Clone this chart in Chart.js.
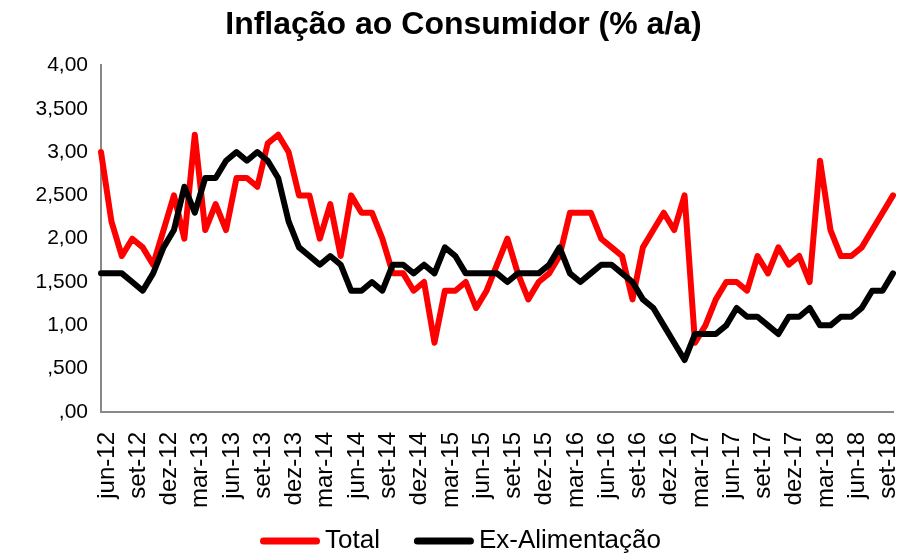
<!DOCTYPE html>
<html>
<head>
<meta charset="utf-8">
<script src="https://cdn.jsdelivr.net/npm/chart.js@4.4.1/dist/chart.umd.min.js"></script>
<style>
  html, body { margin: 0; padding: 0; background: #ffffff; }
  #wrap { width: 910px; height: 554px; }
</style>
</head>
<body>
<div id="wrap"><canvas id="c" width="910" height="554"></canvas></div>
<script>
const months = [
  "jun-12","jul-12","ago-12","set-12","out-12","nov-12","dez-12",
  "jan-13","fev-13","mar-13","abr-13","mai-13","jun-13","jul-13","ago-13","set-13","out-13","nov-13","dez-13",
  "jan-14","fev-14","mar-14","abr-14","mai-14","jun-14","jul-14","ago-14","set-14","out-14","nov-14","dez-14",
  "jan-15","fev-15","mar-15","abr-15","mai-15","jun-15","jul-15","ago-15","set-15","out-15","nov-15","dez-15",
  "jan-16","fev-16","mar-16","abr-16","mai-16","jun-16","jul-16","ago-16","set-16","out-16","nov-16","dez-16",
  "jan-17","fev-17","mar-17","abr-17","mai-17","jun-17","jul-17","ago-17","set-17","out-17","nov-17","dez-17",
  "jan-18","fev-18","mar-18","abr-18","mai-18","jun-18","jul-18","ago-18","set-18","out-18"
];

const totalValues = [
  3.0, 2.2, 1.8, 2.0, 1.9, 1.7, 2.1, 2.5, 2.0, 3.2,
  2.1, 2.4, 2.1, 2.7, 2.7, 2.6, 3.1, 3.2, 3.0, 2.5,
  2.5, 2.0, 2.4, 1.8, 2.5, 2.3, 2.3, 2.0, 1.6, 1.6,
  1.4, 1.5, 0.8, 1.4, 1.4, 1.5, 1.2, 1.4, 1.7, 2.0,
  1.6, 1.3, 1.5, 1.6, 1.8, 2.3, 2.3, 2.3, 2.0, 1.9,
  1.8, 1.3, 1.9, 2.1, 2.3, 2.1, 2.5, 0.8, 1.0, 1.3,
  1.5, 1.5, 1.4, 1.8, 1.6, 1.9, 1.7, 1.8, 1.5, 2.9,
  2.1, 1.8, 1.8, 1.9, 2.1, 2.3, 2.5
];

const exFoodValues = [
  1.6, 1.6, 1.6, 1.5, 1.4, 1.6, 1.9, 2.1, 2.6, 2.3,
  2.7, 2.7, 2.9, 3.0, 2.9, 3.0, 2.9, 2.7, 2.2, 1.9,
  1.8, 1.7, 1.8, 1.7, 1.4, 1.4, 1.5, 1.4, 1.7, 1.7,
  1.6, 1.7, 1.6, 1.9, 1.8, 1.6, 1.6, 1.6, 1.6, 1.5,
  1.6, 1.6, 1.6, 1.7, 1.9, 1.6, 1.5, 1.6, 1.7, 1.7,
  1.6, 1.5, 1.3, 1.2, 1.0, 0.8, 0.6, 0.9, 0.9, 0.9,
  1.0, 1.2, 1.1, 1.1, 1.0, 0.9, 1.1, 1.1, 1.2, 1.0,
  1.0, 1.1, 1.1, 1.2, 1.4, 1.4, 1.6
];

const yTickLabels = [",00", ",500", "1,00", "1,500", "2,00", "2,500", "3,00", "3,500", "4,00"];
const seriesNames = ["Total", "Ex-Alimentação"];
const chartTitle = "Inflação ao Consumidor (% a/a)";

const FONT = "'Liberation Sans', Arial, Helvetica, sans-serif";
const AXIS_GREY = "#898989";

// Legend drawn below the axis labels (series names and colours come from the datasets)
const bottomLegend = {
  id: "bottomLegend",
  afterDraw(chart) {
    const ctx = chart.ctx;
    const items = chart.data.datasets.map(d => ({ text: d.label, color: d.borderColor }));
    const sampleLen = 60, lineW = 7, textGap = 5, itemGap = 34, centerX = 460.5, y = 541;
    ctx.save();
    ctx.font = "26px " + FONT;
    ctx.textBaseline = "middle";
    ctx.textAlign = "left";
    let total = 0;
    items.forEach((it, i) => {
      total += sampleLen + textGap + ctx.measureText(it.text).width;
      if (i < items.length - 1) total += itemGap;
    });
    let x = centerX - total / 2;
    items.forEach(it => {
      ctx.strokeStyle = it.color;
      ctx.lineWidth = lineW;
      ctx.lineCap = "round";
      ctx.beginPath();
      ctx.moveTo(x + lineW / 2, y);
      ctx.lineTo(x + sampleLen - lineW / 2, y);
      ctx.stroke();
      x += sampleLen + textGap;
      ctx.fillStyle = "#000000";
      ctx.fillText(it.text, x, y);
      x += ctx.measureText(it.text).width + itemGap;
    });
    ctx.restore();
  }
};

new Chart(document.getElementById("c"), {
  type: "line",
  data: {
    labels: months,
    datasets: [
      {
        label: seriesNames[0],
        data: totalValues,
        borderColor: "#ff0000",
        backgroundColor: "#ff0000",
        borderWidth: 6,
        pointRadius: 0,
        tension: 0,
        borderJoinStyle: "round",
        borderCapStyle: "round",
        fill: false,
        order: 1
      },
      {
        label: seriesNames[1],
        data: exFoodValues,
        borderColor: "#000000",
        backgroundColor: "#000000",
        borderWidth: 6,
        pointRadius: 0,
        tension: 0,
        borderJoinStyle: "round",
        borderCapStyle: "round",
        fill: false,
        order: 0
      }
    ]
  },
  options: {
    responsive: false,
    animation: false,
    devicePixelRatio: 1,
    layout: { padding: { top: 0, left: 34, right: 17, bottom: 0 } },
    plugins: {
      title: {
        display: true,
        text: chartTitle,
        color: "#000000",
        font: { family: FONT, size: 32, weight: "bold" },
        padding: { top: 6, bottom: 21 }
      },
      legend: { display: false },
      tooltip: { enabled: false }
    },
    scales: {
      x: {
        type: "category",
        grid: { display: false, drawTicks: false },
        border: { display: true, color: AXIS_GREY, width: 2 },
        ticks: {
          autoSkip: false,
          minRotation: 90,
          maxRotation: 90,
          padding: 20,
          labelOffset: 6,
          color: "#000000",
          font: { family: FONT, size: 24 },
          callback: function (value, index) {
            return index % 3 === 0 ? months[index] : "";
          }
        },
        afterFit: function (scale) {
          scale.height = 142;
          scale.paddingLeft = 0;
          scale.paddingRight = 0;
        }
      },
      y: {
        min: 0,
        max: 4,
        grid: { display: false, drawTicks: false },
        border: { display: true, color: AXIS_GREY, width: 2 },
        ticks: {
          stepSize: 0.5,
          padding: 13,
          color: "#000000",
          font: { family: FONT, size: 21 },
          callback: function (value) {
            const idx = Math.round(value / 0.5);
            return yTickLabels[idx] !== undefined ? yTickLabels[idx] : "";
          }
        },
        afterFit: function (scale) {
          scale.width = 67;
          scale.paddingTop = 0;
          scale.paddingBottom = 0;
        }
      }
    }
  },
  plugins: [bottomLegend]
});
</script>
</body>
</html>
